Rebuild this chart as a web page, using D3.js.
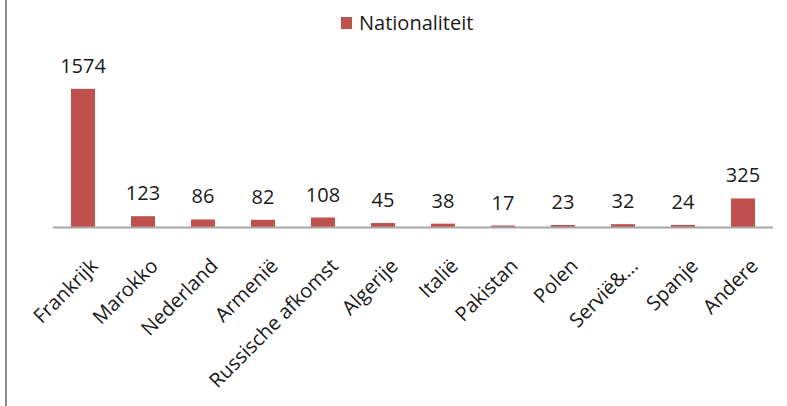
<!DOCTYPE html>
<html>
<head>
<meta charset="utf-8">
<script src="https://cdn.jsdelivr.net/npm/d3@7"></script>
<style>
  body { margin: 0; background: #fff; }
  svg { display: block; font-family: "Open Sans", sans-serif; }
</style>
</head>
<body>
<div id="chart"></div>
<script>
const categories = ["Frankrijk", "Marokko", "Nederland", "Armenië", "Russische afkomst", "Algerije",
    "Italië", "Pakistan", "Polen", "Servië&...", "Spanje", "Andere"];
const values = [1574, 123, 86, 82, 108, 45, 38, 17, 23, 32, 24, 325];
const seriesName = "Nationaliteit";

const svgWidth = 787, svgHeight = 406;
const margin = {top: 69, left: 53, right: 14, bottom: 179};
const width = svgWidth - margin.left - margin.right;
const height = svgHeight - margin.top - margin.bottom;
const barColour = "#c0504d";
const fontSize = 20;

const svg = d3.select("#chart").append("svg")
    .attr("width", svgWidth)
    .attr("height", svgHeight);

// grey frame edge on the left
svg.append("line")
    .attr("x1", 6).attr("x2", 6)
    .attr("y1", 0).attr("y2", svgHeight)
    .attr("stroke", "#8c8c8c")
    .attr("stroke-width", 2);

const plotArea = svg.append("g")
    .attr("transform", `translate(${margin.left},${margin.top})`);

const xscale = d3.scaleBand()
    .domain(categories)
    .range([0, width])
    .paddingInner(0.6)
    .paddingOuter(0.3);

const yscale = d3.scaleLinear()
    .domain([0, 1800])
    .range([height, 0]);

plotArea.selectAll(".bar")
    .data(values)
    .join("rect")
        .attr("class", "bar")
        .attr("x", (d, i) => xscale(categories[i]))
        .attr("y", d => yscale(d))
        .attr("width", xscale.bandwidth())
        .attr("height", d => height - yscale(d))
        .attr("fill", barColour);

plotArea.selectAll(".value-label")
    .data(values)
    .join("text")
        .attr("class", "value-label")
        .attr("x", (d, i) => xscale(categories[i]) + xscale.bandwidth() / 2)
        .attr("y", d => yscale(d) - 16)
        .attr("text-anchor", "middle")
        .attr("fill", "#1a1a1a")
        .attr("font-size", fontSize)
        .text(d => d);

// x axis: baseline only, rotated labels
const xAxis = d3.axisBottom(xscale).tickSize(0).tickPadding(0);
const gX = plotArea.append("g")
    .attr("class", "axis-x")
    .attr("transform", `translate(0,${height})`)
    .call(xAxis);

gX.select(".domain")
    .attr("d", `M0,0.5H${width}`)
    .attr("stroke", "#a6a6a6")
    .attr("stroke-width", 2);

gX.selectAll(".tick text")
    .attr("font-family", "Open Sans, sans-serif")
    .attr("font-size", fontSize)
    .attr("fill", "#1a1a1a")
    .attr("text-anchor", "end")
    .attr("x", 0)
    .attr("y", 0)
    .attr("dy", "0.72em")
    .attr("transform", "translate(6,30) rotate(-45)");

// legend
const legend = svg.append("g").attr("transform", "translate(341,17)");
legend.append("rect")
    .attr("width", 11)
    .attr("height", 12)
    .attr("fill", barColour);
legend.append("text")
    .attr("x", 18)
    .attr("y", 12.5)
    .attr("font-size", fontSize)
    .attr("fill", "#1a1a1a")
    .text(seriesName);
</script>
</body>
</html>
